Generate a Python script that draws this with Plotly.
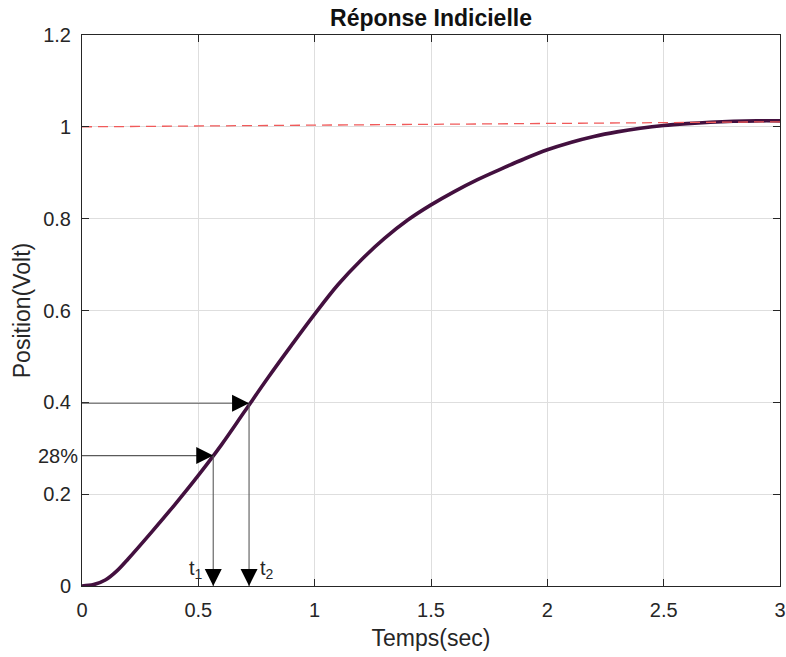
import plotly.graph_objects as go

# Step response data
t_vals = [0, 0.05, 0.1, 0.15, 0.2, 0.3, 0.4, 0.5, 0.6, 0.7, 0.8, 0.9, 1.0, 1.1, 1.2, 1.3,
          1.4, 1.5, 1.6, 1.7, 1.8, 1.9, 2.0, 2.1, 2.2, 2.3, 2.4, 2.5, 2.6, 2.7,
          2.8, 2.9, 3.0]
y_vals = [0, 0.003, 0.013, 0.033, 0.060, 0.118, 0.178, 0.241, 0.308, 0.381, 0.454, 0.524,
          0.592, 0.656, 0.710, 0.757, 0.797, 0.830, 0.859, 0.885, 0.908, 0.930,
          0.950, 0.966, 0.979, 0.989, 0.997, 1.003, 1.007, 1.010, 1.012, 1.013, 1.013]

# Reference (setpoint) dashed line
ref_t = [0, 3]
ref_y = [1.0, 1.011]

# Characteristic points
t1, y1 = 0.564, 0.284
t2, y2 = 0.718, 0.398

x_ticks = [0, 0.5, 1, 1.5, 2, 2.5, 3]
x_tick_labels = ["0", "0.5", "1", "1.5", "2", "2.5", "3"]
y_ticks = [0, 0.2, 0.4, 0.6, 0.8, 1.0, 1.2]
y_tick_labels = ["0", "0.2", "0.4", "0.6", "0.8", "1", "1.2"]

FONT = "Liberation Sans, Arial, sans-serif"
TXT = "#262626"

fig = go.Figure()
fig.add_trace(go.Scatter(x=t_vals, y=y_vals, mode="lines", line_shape="spline",
                         line=dict(color="#43103f", width=3.6), showlegend=False))
fig.add_trace(go.Scatter(x=ref_t, y=ref_y, mode="lines",
                         line=dict(color="#f05a5a", width=1.3, dash="10px,6px"), showlegend=False))

line_color = "#5a5a5a"
# arrow shafts (gray)
fig.add_shape(type="line", x0=0, y0=y2, x1=t2, y1=y2, xref="x", yref="y",
              line=dict(color=line_color, width=1.1))
fig.add_shape(type="line", x0=0, y0=y1, x1=t1, y1=y1, xref="x", yref="y",
              line=dict(color=line_color, width=1.1))
fig.add_shape(type="line", x0=t1, y0=y1, x1=t1, y1=0, xref="x", yref="y",
              line=dict(color=line_color, width=1.1))
fig.add_shape(type="line", x0=t2, y0=y2, x1=t2, y1=0, xref="x", yref="y",
              line=dict(color=line_color, width=1.1))

def head(x, y, dx, dy):
    fig.add_annotation(x=x, y=y, ax=dx, ay=dy, xref="x", yref="y", axref="pixel", ayref="pixel",
                       text="", showarrow=True, arrowhead=2, arrowsize=3.4,
                       arrowwidth=1.0, arrowcolor="#000000")

head(t2, y2, -16, 0)
head(t1, y1, -16, 0)
head(t1, 0, 0, -16)
head(t2, 0, 0, -16)

fig.add_annotation(x=0, y=y1, xref="x", yref="y", text="28%", showarrow=False,
                   xanchor="right", xshift=-2, font=dict(family=FONT, size=20, color=TXT))
fig.add_annotation(x=0.53, y=0.035, xref="x", yref="y", text="t<sub>1</sub>", showarrow=False,
                   xanchor="right", font=dict(family=FONT, size=20, color=TXT))
fig.add_annotation(x=0.755, y=0.035, xref="x", yref="y", text="t<sub>2</sub>", showarrow=False,
                   xanchor="left", font=dict(family=FONT, size=20, color=TXT))

axis_common = dict(showline=True, linecolor="#262626", linewidth=1, mirror="ticks",
                   ticks="inside", ticklen=7, tickcolor="#262626",
                   showgrid=True, gridcolor="#dedede", gridwidth=1, zeroline=False,
                   automargin=False,
                   tickfont=dict(family=FONT, size=20, color=TXT))

fig.update_xaxes(range=[0, 3], tickvals=x_ticks, ticktext=x_tick_labels,
                 title=dict(text="Temps(sec)", font=dict(family=FONT, size=23, color=TXT), standoff=9),
                 ticklabelstandoff=6, **axis_common)
fig.update_yaxes(range=[0, 1.2], tickvals=y_ticks, ticktext=y_tick_labels,
                 title=dict(text="Position(Volt)", font=dict(family=FONT, size=23, color=TXT), standoff=6),
                 ticklabelstandoff=6, **axis_common)

fig.update_layout(
    width=786, height=657,
    margin=dict(l=82, r=6, t=35, b=71),
    paper_bgcolor="white", plot_bgcolor="white",
    title=dict(text="<b>Réponse Indicielle</b>", x=0.5, xref="paper", xanchor="center",
               y=1, yref="paper", yanchor="bottom", pad=dict(b=9),
               font=dict(family=FONT, size=23, color="#111111")),
)

fig.write_html("out.html")
